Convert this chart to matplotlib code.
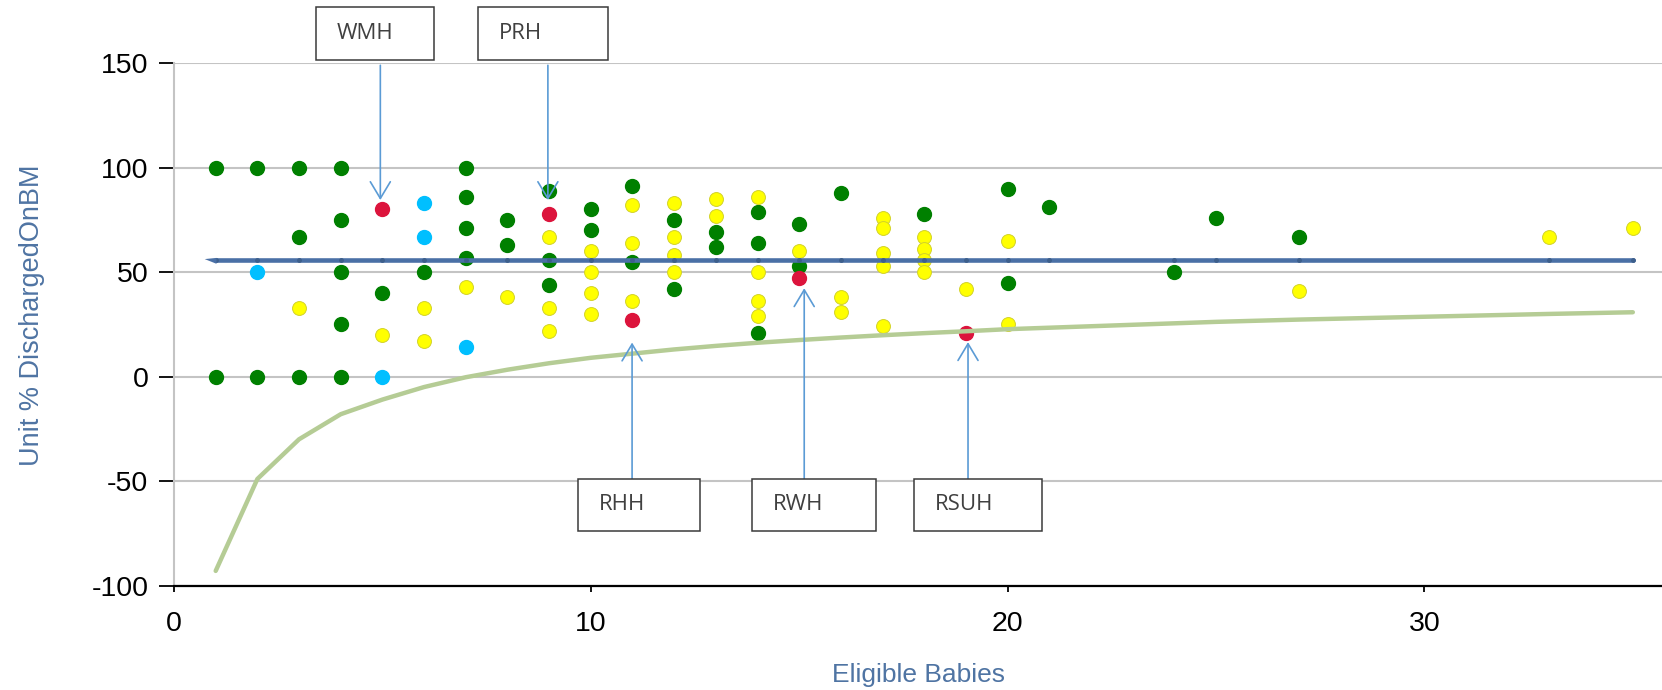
import matplotlib
matplotlib.use("Agg")
import matplotlib.pyplot as plt
from matplotlib.patches import Rectangle
from matplotlib.path import Path
from matplotlib.markers import MarkerStyle

plt.rcParams['font.family'] = ['Liberation Sans', 'DejaVu Sans']
plt.rcParams['axes.unicode_minus'] = False

# ---------------- data ----------------
green_x = [1, 1, 2, 2, 3, 3, 3, 4, 4, 4, 4, 4, 5, 6, 7, 7, 7, 7, 8, 8, 9, 9, 9,
           10, 10, 11, 11, 12, 12, 13, 13, 14, 14, 14, 15, 15, 16, 18, 20, 20, 21, 24, 25, 27]
green_y = [100, 0, 100, 0, 100, 67, 0, 100, 75, 50, 25, 0, 40, 50, 100, 86, 71, 57, 75, 63, 89, 56, 44,
           80, 70, 91, 55, 75, 42, 69, 62, 79, 64, 21, 73, 53, 88, 78, 90, 45, 81, 50, 76, 67]

cyan_x = [2, 5, 6, 6, 7]
cyan_y = [50, 0, 83, 67, 14]

yellow_x = [3, 5, 6, 6, 7, 8, 9, 9, 9, 10, 10, 10, 10, 11, 11, 11, 12, 12, 12, 12,
            13, 13, 14, 14, 14, 14, 15, 16, 16, 17, 17, 17, 17, 17, 18, 18, 18, 18,
            19, 20, 20, 27, 33, 35]
yellow_y = [33, 20, 33, 17, 43, 38, 67, 33, 22, 60, 50, 40, 30, 82, 64, 36, 83, 67, 58, 50,
            85, 77, 86, 50, 36, 29, 60, 38, 31, 76, 71, 59, 53, 24, 67, 61, 56, 50,
            42, 65, 25, 41, 67, 71]

red_x = [5, 9, 11, 15, 19]
red_y = [80, 78, 27, 47, 21]

line_x = [1, 2, 3, 4, 5, 6, 7, 8, 9, 10, 11, 12, 13, 14, 15, 16, 17, 18, 19, 20, 21, 24, 25, 27, 33, 35]
center_y = [56, 56, 56, 56, 56, 56, 56, 56, 56, 56, 56, 56, 56, 56, 56, 56, 56, 56, 56, 56, 56, 56, 56, 56, 56, 56]
lower_y = [-93, -49, -30, -18, -11, -5, -0.3, 3.3, 6.4, 9, 11, 13, 14.7, 16.2, 17.5, 18.7, 19.8,
           20.8, 21.7, 22.7, 23.4, 25.5, 26.2, 27.3, 30, 30.8]

ann_labels = ['WMH', 'PRH', 'RHH', 'RWH', 'RSUH']
ann_x = [4.95, 8.97, 10.99, 15.12, 19.05]
ann_tip = [84.5, 84.5, 16.3, 42.3, 16.5]

x_ticks = [0, 10, 20, 30]
y_ticks = [-100, -50, 0, 50, 100, 150]

# ---------------- layout ----------------
ann_start = [149, 149, -49.1, -49.1, -49.1]
box_x0 = [3.40, 7.29, 9.69, 13.87, 17.75]
box_x1 = [6.24, 10.42, 12.62, 16.84, 20.83]
box_y0 = [151.5, 151.5, -73.8, -73.8, -73.8]
box_y1 = [176.7, 176.7, -49.1, -49.1, -49.1]

fig = plt.figure(figsize=(16.62, 6.9), dpi=100)
ax = fig.add_axes([0.1047, 0.1514, 0.8953, 0.7570])
ax.set_xlim(0, 35.7)
ax.set_ylim(-100, 150)

ax.set_yticks(y_ticks)
ax.set_xticks(x_ticks)
ax.yaxis.grid(True, color='#c4c4c4', lw=1.5, zorder=0)
ax.set_axisbelow(True)
for s in ['top', 'right']:
    ax.spines[s].set_visible(False)
ax.spines['left'].set_color('#c4c4c4')
ax.spines['left'].set_linewidth(1.5)
ax.spines['bottom'].set_color('black')
ax.spines['bottom'].set_linewidth(1.6)
ax.tick_params(axis='y', length=11, width=1.3, pad=7.5, labelsize=20.5, colors='black')
ax.tick_params(axis='x', length=4.5, width=1.3, pad=13.5, labelsize=20.5, colors='black')

label_color = '#4f74a3'
ax.set_xlabel('Eligible Babies', fontsize=19, color=label_color)
ax.xaxis.set_label_coords(0.5, -0.149)
ax.set_ylabel('Unit % DischargedOnBM', fontsize=19.5, color=label_color)
ax.yaxis.set_label_coords(-0.087, 0.518)

ms = 10
ax.plot(green_x, green_y, 'o', ms=ms, color='#008000', mec='#008000', zorder=3)
ax.plot(cyan_x, cyan_y, 'o', ms=ms, color='#00bfff', mec='#00bfff', zorder=3)
ax.plot(yellow_x, yellow_y, 'o', ms=ms, color='#ffff00', mec='#d2d22a', mew=0.7, zorder=3)
ax.plot(red_x, red_y, 'o', ms=ms, color='#dc143c', mec='#dc143c', zorder=3)

# lines
ax.plot(line_x, lower_y, color='#b5cc95', lw=3.2, solid_capstyle='round', zorder=4)
ax.plot(line_x, center_y, color='#4a70a6', lw=3.3, solid_capstyle='round', zorder=4,
        marker='o', ms=2.5, mfc='#3d5f8c', mec='#3d5f8c')
wedge = MarkerStyle(Path([(0, 0.22), (-1, 0.12), (0, -0.28), (0, 0.22)],
                         [Path.MOVETO, Path.LINETO, Path.LINETO, Path.CLOSEPOLY]))
ax.plot(line_x[:1], center_y[:1], marker=wedge, ms=17, color='#4a70a6', mec='#4a70a6',
        mew=0, ls='none', zorder=4)

# annotations
for lab, x, tip, st, bx0, bx1, by0, by1 in zip(ann_labels, ann_x, ann_tip, ann_start,
                                               box_x0, box_x1, box_y0, box_y1):
    ax.add_patch(Rectangle((bx0, by0), bx1 - bx0, by1 - by0, facecolor='white',
                           edgecolor='#3a3a3a', lw=1.1, clip_on=False, zorder=6))
    ax.text(bx0 + 0.5, (by0 + by1) / 2, lab, fontsize=16, family=['Open Sans', 'DejaVu Sans'],
            color='#404040', ha='left', va='center', zorder=7, clip_on=False)
    ax.annotate('', xy=(x, tip), xytext=(x, st),
                arrowprops=dict(arrowstyle='->,head_length=0.6,head_width=0.36',
                                color='#5b9bd5', lw=1.2, mutation_scale=20,
                                shrinkA=0, shrinkB=0),
                zorder=5, annotation_clip=False)

fig.savefig('out.png', dpi=100)
